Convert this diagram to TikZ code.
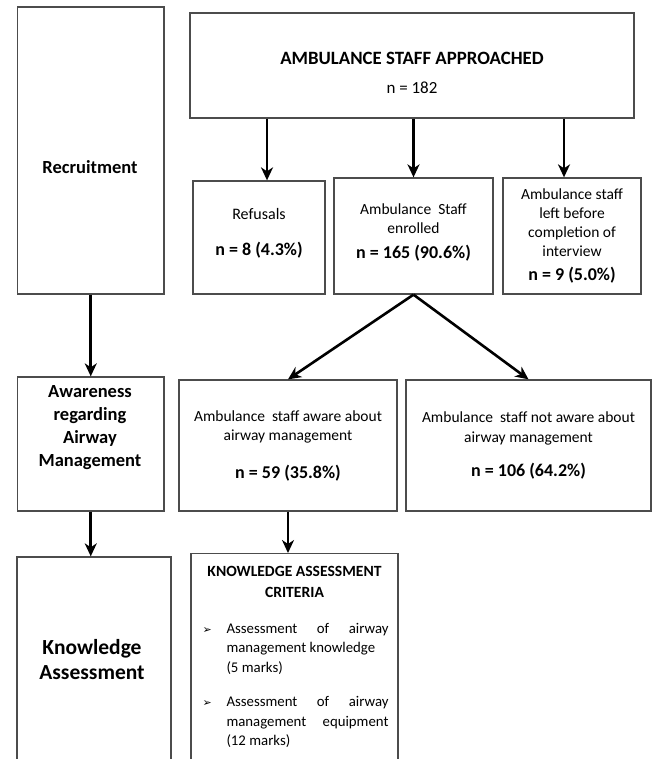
\documentclass[tikz,border=0pt]{standalone}
\usepackage{fontspec}
\setmainfont{Carlito}
\newfontfamily\dingfont{DejaVu Sans}
\usetikzlibrary{arrows.meta}

\newcommand\nfont{\fontsize{18}{22}\selectfont\bfseries}
\newcommand\critpoint[1]{\par\noindent\hangindent=26pt\hangafter=1
  \makebox[26pt][l]{\hspace{2pt}\dingfont\fontsize{11}{11}\selectfont ➢}#1\par}

\begin{document}
\begin{tikzpicture}[x=1pt,y=-1pt,
    box/.style={draw=black!70, line width=1.3pt, inner sep=2pt},
    flow/.style={-{Stealth[length=13pt,width=12pt,inset=4pt]}, line width=2.6pt},
    stage/.style={font=\fontsize{18.5}{23}\selectfont\bfseries, align=center},
    txt/.style={font=\fontsize{15.5}{19.5}\selectfont, align=center}]

    \clip (0,0) rectangle (654,759);

    % stages on the left
    \node[box, minimum width=146.5pt, minimum height=287pt] (rec) at (90.75,150.5) {};
    \node[stage] (rectxt) at (90,167) {Recruitment};
    \node[box, minimum width=146.5pt, minimum height=134pt] (awa) at (90.75,444) {};
    \node[stage] (awatxt) at (90,428) {Awareness\\regarding\\Airway\\Management};
    \node[box, minimum width=154pt, minimum height=230pt] (know) at (94,672) {};
    \node[stage, font=\fontsize{21.5}{25}\selectfont\bfseries] (knowtxt) at (92,660) {Knowledge\\Assessment};

    % recruitment
    \node[box, txt, minimum width=444pt, minimum height=105pt] (appr) at (412,65.5)
        {\rule{0pt}{27pt}{\fontsize{18.8}{20}\selectfont\bfseries AMBULANCE STAFF APPROACHED}\\[10pt]{\fontsize{17}{18}\selectfont n = 182}};
    \node[box, txt, minimum width=132pt, minimum height=113pt] (ref) at (259,237.5)
        {\fontsize{16}{19.5}\selectfont Refusals\\[17pt]{\nfont n = 8 (4.3\%)}\rule[-11pt]{0pt}{11pt}};
    \node[box, txt, minimum width=159pt, minimum height=116pt] (enr) at (413.5,236)
        {Ambulance\ \ Staff\\enrolled\\[5pt]{\nfont n = 165 (90.6\%)}\rule[-10pt]{0pt}{10pt}};
    \node[box, txt, font=\fontsize{15.5}{19}\selectfont, minimum width=138pt, minimum height=116pt] (lft) at (572,236)
        {Ambulance staff\\left before\\completion of\\interview\\[5pt]{\nfont n = 9 (5.0\%)}};

    % awareness
    \node[box, txt, minimum width=218pt, minimum height=131pt] (aware) at (288,445.5)
        {Ambulance\ \ staff aware about\\airway management\\[18pt]{\nfont n = 59 (35.8\%)}};
    \node[box, txt, minimum width=245pt, minimum height=131pt] (notaw) at (528.5,445.5)
        {Ambulance\ \ staff not aware about\\airway management\\[15pt]{\nfont n = 106 (64.2\%)}};

    % knowledge assessment criteria
    \node[box, anchor=north, minimum width=207pt, text width=188pt, align=justify,
          inner xsep=7pt, inner ysep=13pt, font=\fontsize{14.8}{19.5}\selectfont] (crit) at (294.5,553)
        {\hyphenpenalty=10000
         {\centering\bfseries\fontsize{15.6}{21}\selectfont KNOWLEDGE ASSESSMENT\\CRITERIA\par}
         \vspace{16pt}
         \critpoint{Assessment of airway\linebreak management knowledge\\(5 marks)}
         \vspace{15pt}
         \critpoint{Assessment of airway\linebreak management equipment\linebreak (12 marks)}
         \par\rule{0pt}{40pt}};

    % arrows
    \path (ref.north) ++(8,0) coordinate (reftop);
    \path (lft.north) ++(-8,0) coordinate (lfttop);
    \draw[flow] (rec.south) -- (awa.north);
    \draw[flow] (awa.south) -- (awa.south |- know.north);
    \draw[flow] (reftop |- appr.south) -- (reftop);
    \draw[flow] (enr.north |- appr.south) -- (enr.north);
    \draw[flow] (lfttop |- appr.south) -- (lfttop);
    \draw[flow] (enr.south) -- (aware.north);
    \draw[flow] (enr.south) -- (notaw.north);
    \draw[flow] (aware.south) -- (aware.south |- crit.north);
\end{tikzpicture}
\end{document}
